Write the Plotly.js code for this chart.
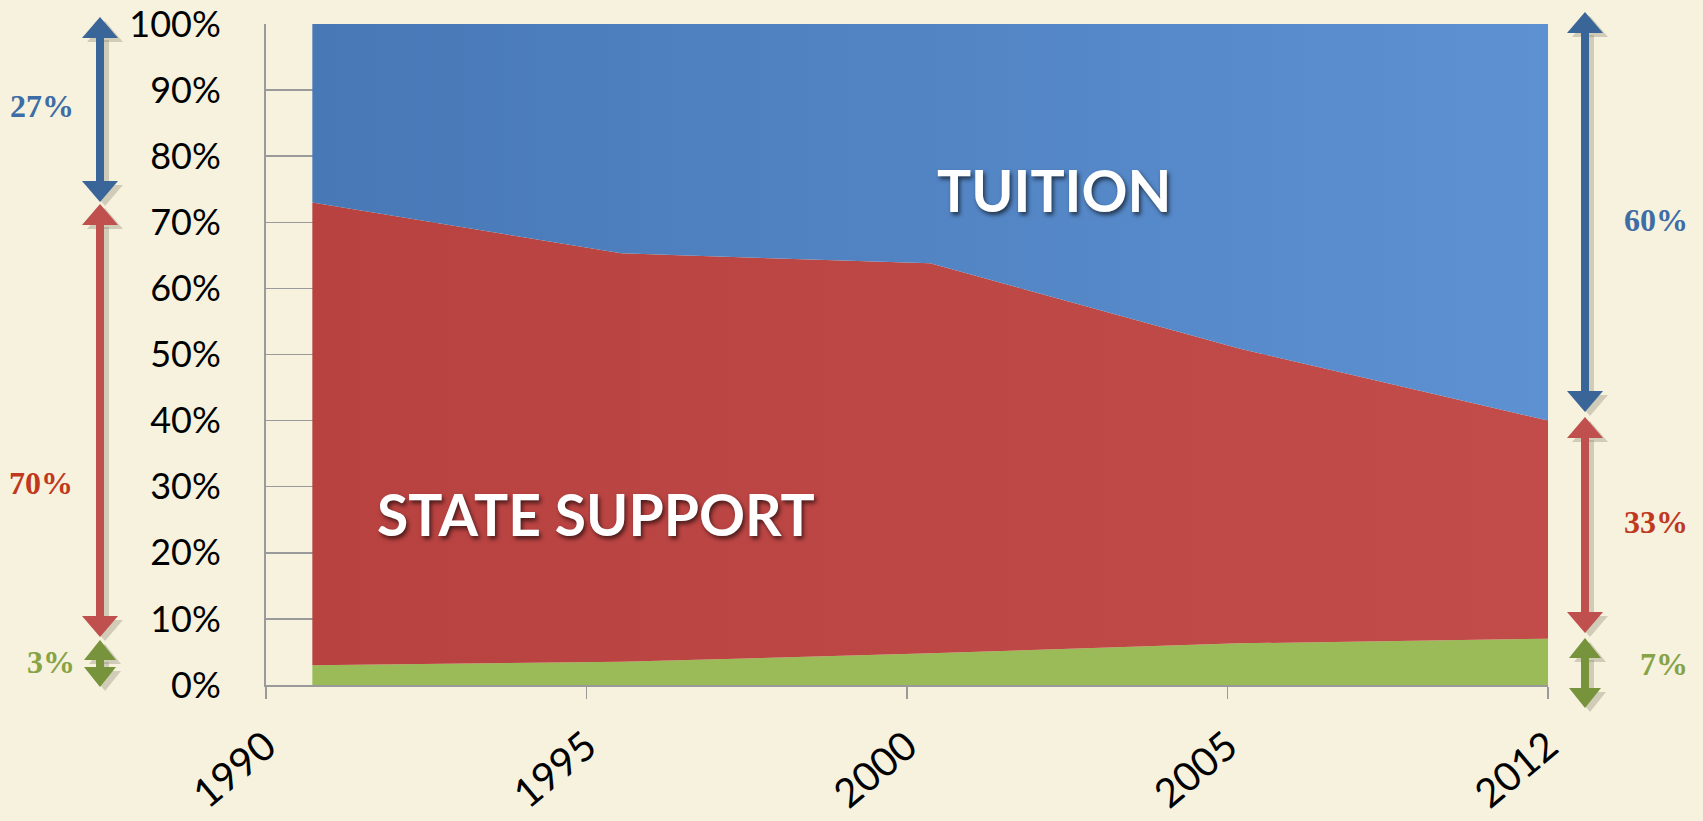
<!DOCTYPE html>
<html>
<head>
<meta charset="utf-8">
<script src="https://cdn.plot.ly/plotly-3.0.1.min.js"></script>
<style>
  html, body { margin: 0; padding: 0; background: #F6F2DE; }
  #chart { width: 1703px; height: 821px; }
</style>
</head>
<body>
<div id="chart"></div>
<script>
// ---- data (percent of total revenue) ----
const years   = ['1990', '1995', '2000', '2005', '2012'];
const other   = [3, 3.5, 4.8, 6.3, 7];          // green
const state   = [70, 61.8, 59, 44.6, 33];        // red  - state support
const tuition = [27, 34.7, 36.2, 49.1, 60];      // blue - tuition
const yTicks  = [0, 10, 20, 30, 40, 50, 60, 70, 80, 90, 100];

// ---- layout geometry (pixels) ----
const W = 1703, H = 821;
const M = { l: 266, r: 155, t: 24, b: 136 };
const PW = W - M.l - M.r, PH = H - M.t - M.b;
const px = x => (x - M.l) / PW;
const py = y => (H - M.b - y) / PH;

const BG = '#F6F2DE';
const BLUE_D = '#3A6599', RED = '#C0504D', GREEN_D = '#77933C';

const traces = [
  { x: years, y: other, type: 'scatter', mode: 'lines', stackgroup: 'one',
    line: { width: 0 }, fillcolor: '#9BBB59', hoverinfo: 'skip', showlegend: false },
  { x: years, y: state, type: 'scatter', mode: 'lines', stackgroup: 'one',
    line: { width: 0 }, fillcolor: '#BC4745',
    fillgradient: { type: 'horizontal', colorscale: [[0, '#B84240'], [1, '#C24C4A']] },
    hoverinfo: 'skip', showlegend: false },
  { x: years, y: tuition, type: 'scatter', mode: 'lines', stackgroup: 'one',
    line: { width: 0 }, fillcolor: '#5185C4',
    fillgradient: { type: 'horizontal', colorscale: [[0, '#4878B6'], [1, '#5D91D2']] },
    hoverinfo: 'skip', showlegend: false },
  { x: [], y: [], xaxis: 'x2', yaxis: 'y', type: 'scatter', hoverinfo: 'skip', showlegend: false }
];

// ---- double arrows (shapes) ----
const shapes = [];
function dblArrow(cx, yTop, yBot, color, headW, headL) {
  const tri = (tipY, baseY, dx, dy) =>
    'M ' + px(cx + dx) + ',' + py(tipY + dy) +
    ' L ' + px(cx - headW / 2 + dx) + ',' + py(baseY + dy) +
    ' L ' + px(cx + headW / 2 + dx) + ',' + py(baseY + dy) + ' Z';
  const draw = (dx, dy, col, op) => {
    shapes.push({ type: 'line', xref: 'paper', yref: 'paper',
      x0: px(cx + dx), x1: px(cx + dx), y0: py(yTop + headL - 2 + dy), y1: py(yBot - headL + 2 + dy),
      line: { color: col, width: 8 }, opacity: op });
    shapes.push({ type: 'path', xref: 'paper', yref: 'paper', path: tri(yTop, yTop + headL, dx, dy),
      fillcolor: col, line: { width: 0 }, opacity: op });
    shapes.push({ type: 'path', xref: 'paper', yref: 'paper', path: tri(yBot, yBot - headL, dx, dy),
      fillcolor: col, line: { width: 0 }, opacity: op });
  };
  draw(5, 4, '#8a8670', 0.35);
  draw(0, 0, color, 1);
}
// left column (1990)
dblArrow(100, 17, 202, BLUE_D, 36, 21);
dblArrow(100, 204, 637, RED, 36, 21);
dblArrow(100, 640, 687, GREEN_D, 32, 20);
// right column (2012)
dblArrow(1585, 12, 412, BLUE_D, 36, 21);
dblArrow(1585, 417, 633, RED, 36, 21);
dblArrow(1585, 638, 708, GREEN_D, 32, 20);

const pctFont = (c) => ({ family: 'Liberation Serif, DejaVu Serif, serif', size: 32, color: c, weight: 700 });
const last = years.length - 1;
const annotations = [
  { x: px(42), y: py(106), text: tuition[0] + '%', font: pctFont('#3E6CA6') },
  { x: px(41), y: py(483), text: state[0] + '%', font: pctFont('#C0391F') },
  { x: px(51), y: py(662), text: other[0] + '%', font: pctFont('#86A346') },
  { x: px(1656), y: py(220), text: tuition[last] + '%', font: pctFont('#3E6CA6') },
  { x: px(1656), y: py(522), text: state[last] + '%', font: pctFont('#C0391F') },
  { x: px(1664), y: py(664), text: other[last] + '%', font: pctFont('#86A346') },
  { x: px(1054), y: py(190), text: 'TUITION',
    font: { family: 'Lato, sans-serif', size: 57, color: '#ffffff', weight: 700,
            shadow: '2px 3px 4px rgba(0,0,0,0.6)' } },
  { x: px(596), y: py(514), text: 'STATE SUPPORT',
    font: { family: 'Lato, sans-serif', size: 57, color: '#ffffff', weight: 700,
            shadow: '2px 3px 4px rgba(0,0,0,0.6)' } }
].map(a => Object.assign({ xref: 'paper', yref: 'paper', showarrow: false,
                           xanchor: 'center', yanchor: 'middle' }, a));

const tickFont = { family: 'Lato, Open Sans, sans-serif', size: 36, color: '#000000' };

const layout = {
  width: W, height: H,
  margin: M,
  paper_bgcolor: BG, plot_bgcolor: BG,
  showlegend: false,
  xaxis: {
    type: 'category', categoryorder: 'array', categoryarray: years,
    range: [-0.15, years.length - 1],
    showticklabels: false, ticks: '', showgrid: false, zeroline: false,
    showline: false, fixedrange: true
  },
  xaxis2: {
    type: 'linear', overlaying: 'x', anchor: 'y', side: 'bottom',
    range: [0, years.length - 1],
    tickvals: years.map((_, i) => i), ticktext: years,
    tickangle: -40, tickfont: { family: 'Lato, Open Sans, sans-serif', size: 40, color: '#000000' },
    ticks: 'outside', ticklen: 12, tickwidth: 1.5, tickcolor: '#9a9a9a',
    ticklabelstandoff: 8,
    showgrid: false, zeroline: false,
    showline: true, linecolor: '#9a9a9a', linewidth: 2
  },
  yaxis: {
    range: [0, 100], tickmode: 'array', tickvals: yTicks,
    ticktext: yTicks.map(v => v + '%'),
    tickfont: tickFont, ticks: '', ticklabelstandoff: 36,
    showgrid: true, gridcolor: '#9a9a9a', gridwidth: 1.5,
    zeroline: false, showline: true, linecolor: '#9a9a9a', linewidth: 2,
    fixedrange: true
  },
  shapes: shapes,
  annotations: annotations
};

Plotly.newPlot('chart', traces, layout, { displayModeBar: false, staticPlot: true });
</script>
</body>
</html>
